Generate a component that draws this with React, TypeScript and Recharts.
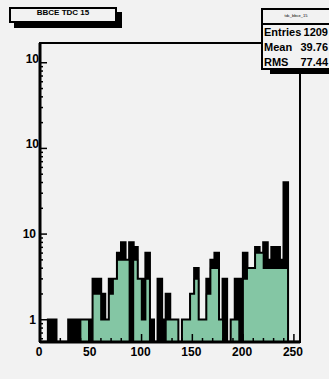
import { ComposedChart, Area, XAxis, YAxis, ReferenceArea } from 'recharts'

// TDC histogram, 4-count bins from 0 to 256
const binLow = [
  0, 4, 8, 12, 16, 20, 24, 28, 32, 36, 40, 44, 48, 52, 56, 60,
  64, 68, 72, 76, 80, 84, 88, 92, 96, 100, 104, 108, 112, 116, 120, 124,
  128, 132, 136, 140, 144, 148, 152, 156, 160, 164, 168, 172, 176, 180, 184, 188,
  192, 196, 200, 204, 208, 212, 216, 220, 224, 228, 232, 236, 240, 244, 248, 252,
]
const blackCounts = [
  0, 0, 1, 1, 0, 0, 0, 1, 1, 1, 1, 1, 1, 3, 3, 2,
  1, 3, 3, 6, 8, 5, 8, 7, 3, 3, 6, 1, 0, 3, 1, 2,
  1, 1, 0, 1, 1, 2, 4, 1, 1, 3, 5, 6, 1, 3, 0, 1,
  3, 3, 6, 4, 4, 7, 6, 8, 5, 7, 7, 5, 40, 0, 0, 0,
]
const greenCounts = [
  0, 0, 0, 0, 0, 0, 0, 0, 0, 0, 1, 1, 0, 2, 2, 1,
  1, 2, 3, 5, 5, 5, 0, 5, 3, 1, 3, 0, 0, 0, 0, 1,
  1, 1, 0, 1, 1, 2, 3, 1, 1, 2, 4, 4, 1, 0, 0, 1,
  1, 0, 3, 4, 4, 6, 6, 4, 4, 4, 4, 4, 4, 0, 0, 0,
]
const xTicks = [0, 10, 20, 30, 40, 50, 60, 70, 80, 90, 100, 110, 120, 130, 140, 150, 160, 170, 180, 190, 200, 210, 220, 230, 240, 250]
const yTicks = [
  0.6, 0.7, 0.8, 0.9, 1, 2, 3, 4, 5, 6, 7, 8, 9,
  10, 20, 30, 40, 50, 60, 70, 80, 90,
  100, 200, 300, 400, 500, 600, 700, 800, 900, 1000,
]
const X_MAX = 256
const Y_MIN = 0.55
const Y_MAX = 1700

const data = binLow.map((x, i) => ({
  x,
  black: blackCounts[i] > 0 ? blackCounts[i] : Y_MIN,
  green: greenCounts[i] > 0 ? greenCounts[i] : Y_MIN,
}))
data.push({ x: X_MAX, black: Y_MIN, green: Y_MIN })

const FONT = '"Liberation Sans", Arial, sans-serif'

function YTick(props: any) {
  const { x, y, payload } = props
  const v = payload.value
  const decade = Math.abs(Math.log10(v) - Math.round(Math.log10(v))) < 1e-6
  if (!decade) {
    return <line x1={x} x2={x + 3} y1={y} y2={y} stroke="#000" strokeWidth={1.5} />
  }
  const label = v === 1 ? '1' : '10'
  const dx = v >= 100 ? 3 : 0
  const dy = v >= 100 ? -4 : 0
  return (
    <g>
      <line x1={x} x2={x + 7} y1={y} y2={y} stroke="#000" strokeWidth={1.5} />
      <text x={x - 4 + dx} y={y + 4 + dy} textAnchor="end" fontFamily={FONT} fontWeight="bold" fontSize={12} fill="#000">
        {label}
      </text>
    </g>
  )
}

function XTick(props: any) {
  const { x, y, payload } = props
  const v = payload.value
  const major = v % 50 === 0
  return (
    <g>
      <line x1={x} x2={x} y1={y} y2={y - (major ? 8 : 4)} stroke="#000" strokeWidth={1.5} />
      {major && (
        <text x={x - 1} y={y + 14} textAnchor="middle" fontFamily={FONT} fontWeight="bold" fontSize={12} fill="#000">
          {v}
        </text>
      )}
    </g>
  )
}

export default function App() {
  return (
    <div style={{ position: 'absolute', left: 0, top: 0, width: 329, height: 379, overflow: 'hidden', background: '#f2f2f2', fontFamily: FONT }}>
      <ComposedChart width={329} height={379} data={data} margin={{ top: 43, right: 29, bottom: 0, left: 0 }}>
        <XAxis
          dataKey="x"
          type="number"
          domain={[0, X_MAX]}
          ticks={xTicks}
          interval={0}
          height={37}
          tickSize={0}
          tickMargin={0}
          tick={<XTick />}
          axisLine={{ stroke: '#000', strokeWidth: 3 }}
          allowDataOverflow
        />
        <YAxis
          scale="log"
          domain={[Y_MIN, Y_MAX]}
          ticks={yTicks}
          interval={0}
          width={40}
          tickSize={0}
          tickMargin={0}
          tick={<YTick />}
          axisLine={{ stroke: '#000', strokeWidth: 3 }}
          allowDataOverflow
        />
        <Area
          dataKey="black"
          type="stepAfter"
          fill="#000"
          fillOpacity={1}
          stroke="#000"
          strokeWidth={2.5}
          isAnimationActive={false}
        />
        <Area
          dataKey="green"
          type="stepAfter"
          fill="#84c6a4"
          fillOpacity={1}
          stroke="#000"
          strokeWidth={1.5}
          isAnimationActive={false}
        />
        <ReferenceArea x1={0} x2={X_MAX} y1={Y_MIN} y2={Y_MAX} fill="none" stroke="#000" strokeWidth={2} />
      </ComposedChart>

      {/* title box */}
      <div style={{ position: 'absolute', left: 14, top: 12, width: 108, height: 16, background: '#000' }} />
      <div
        style={{
          position: 'absolute', left: 9, top: 7, width: 104, height: 12, background: '#f2f2f2',
          border: '2px solid #000', fontSize: 8, fontWeight: 'bold', textAlign: 'center', lineHeight: '7px',
        }}
      >
        BBCE TDC 15
      </div>

      {/* stats box */}
      <div style={{ position: 'absolute', left: 270, top: 62, width: 70, height: 12, background: '#000' }} />
      <div
        style={{
          position: 'absolute', left: 261, top: 8, width: 80, height: 58, background: '#f2f2f2',
          border: '2px solid #000', fontSize: 11, fontWeight: 'bold',
        }}
      >
        <div style={{ height: 13, borderBottom: '2px solid #000', fontSize: 4, fontWeight: 'normal', width: 66, textAlign: 'center', lineHeight: '12px' }}>
          tdc_bbce_15
        </div>
        <div style={{ display: 'flex', justifyContent: 'space-between', width: 64, paddingLeft: 1, height: 15, lineHeight: '15px' }}>
          <span>Entries</span><span>1209</span>
        </div>
        <div style={{ display: 'flex', justifyContent: 'space-between', width: 64, paddingLeft: 1, height: 15, lineHeight: '15px' }}>
          <span>Mean</span><span>39.76</span>
        </div>
        <div style={{ display: 'flex', justifyContent: 'space-between', width: 64, paddingLeft: 1, height: 15, lineHeight: '15px' }}>
          <span>RMS</span><span>77.44</span>
        </div>
      </div>
    </div>
  )
}
